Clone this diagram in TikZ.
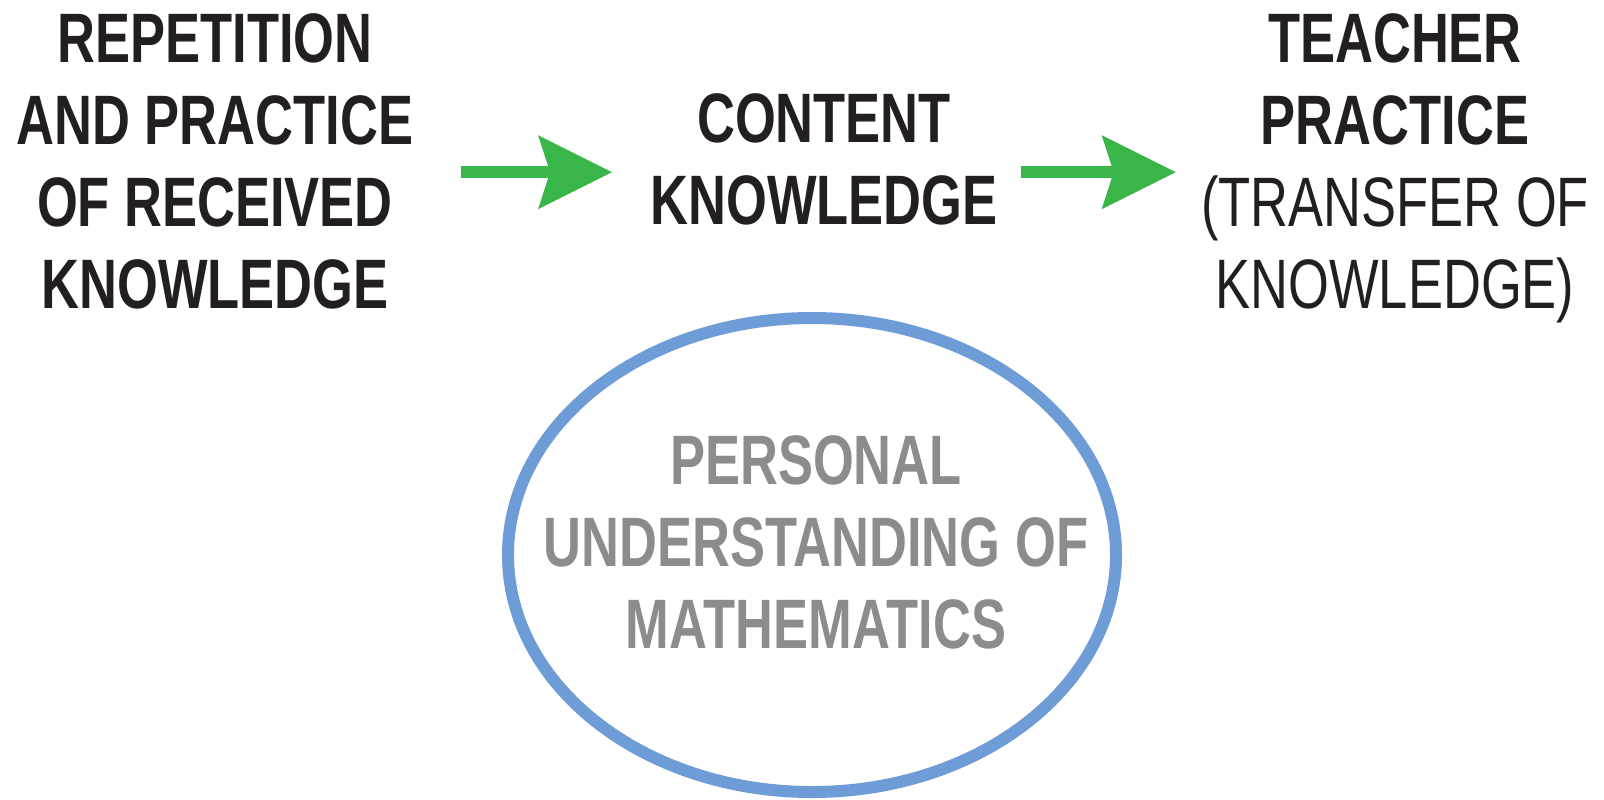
\documentclass[tikz,border=0pt]{standalone}
\usepackage{fontspec}
\usepackage{tikz}
\usetikzlibrary{arrows.meta, positioning, shapes.geometric}
\newfontfamily\narrowsans[FakeStretch=0.75]{Liberation Sans}
\definecolor{ckInk}{HTML}{231F20}
\definecolor{ckGray}{HTML}{8C8C8C}
\definecolor{ckBlue}{HTML}{6E9CD6}
\definecolor{ckGreen}{HTML}{3AB54A}

\begin{document}
\begin{tikzpicture}[x=0.5pt, y=-0.5pt,
  stage/.style={inner sep=0pt, anchor=north, align=center, text=ckInk, font=\narrowsans\fontsize{35}{41}\selectfont\bfseries},
  inner/.style={inner sep=0pt, anchor=north, align=center, text=ckGray, font=\narrowsans\fontsize{35}{41}\selectfont\bfseries},
  ring/.style={ellipse, draw=ckBlue, line width=6pt, inner sep=0pt, minimum width=304pt, minimum height=237pt},
  flow/.style={-{Stealth[length=37pt, width=37pt, inset=6pt, line width=0pt]}, ckGreen, line width=6pt}]
  \useasboundingbox (0,0) rectangle (1604,799);
  \node[stage](rep) at (215,13){REPETITION\\AND PRACTICE\\OF RECEIVED\\KNOWLEDGE};
  \node[stage](cont) at (824,93){CONTENT\\KNOWLEDGE};
  \node[stage](tp) at (1395,13){TEACHER\\PRACTICE\\\mdseries(TRANSFER OF\\\mdseries KNOWLEDGE)};
  \node[ring](ell) at (812,555){};
  \node[inner](pum) at (816,435){PERSONAL\\UNDERSTANDING OF\\MATHEMATICS};
  \draw[flow, shorten <=23.5pt, shorten >=19pt]([yshift=-5.5pt]rep.east) -- ([yshift=-5.5pt]rep.east -| cont.west);
  \draw[flow, shorten <=11.5pt, shorten >=12.5pt]([yshift=-6.5pt]cont.east) -- ([yshift=-6.5pt]cont.east -| tp.west);
\end{tikzpicture}
\end{document}
